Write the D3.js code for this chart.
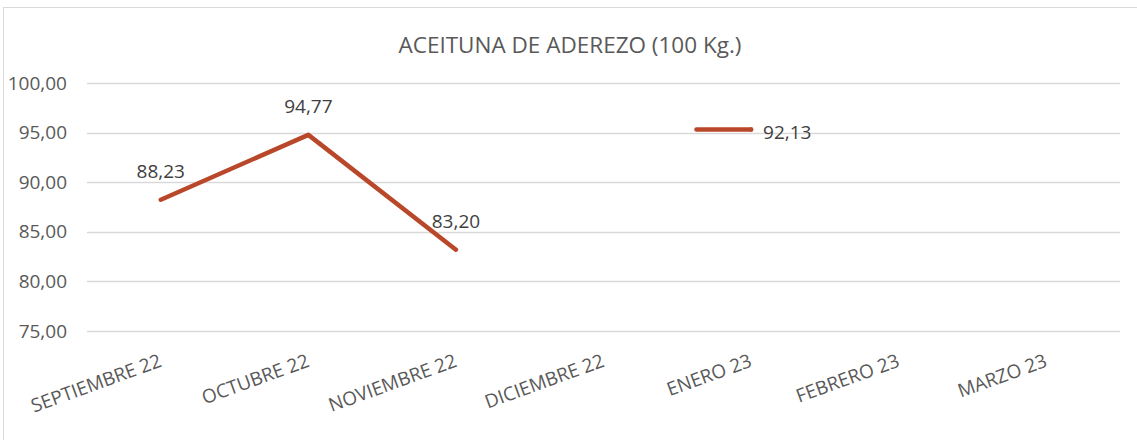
<!DOCTYPE html>
<html>
<head>
<meta charset="utf-8">
<script src="https://cdn.jsdelivr.net/npm/d3@7"></script>
<style>
  html, body { margin: 0; padding: 0; background: #fff; }
  svg { display: block; font-family: "Open Sans", sans-serif; }
</style>
</head>
<body>
<div id="chart"></div>
<script>
// datos del gráfico
const meses = ['SEPTIEMBRE 22', 'OCTUBRE 22', 'NOVIEMBRE 22', 'DICIEMBRE 22', 'ENERO 23', 'FEBRERO 23', 'MARZO 23'];
// posición dibujada de cada punto (null = sin dato)
const precios = [88.23, 94.77, 83.20, null, 95.3, null, null];
// texto de las etiquetas de datos
const etiquetas = ['88,23', '94,77', '83,20', null, '92,13', null, null];
const ticksY = [75, 80, 85, 90, 95, 100];

const W = 1137, H = 440;
const margin = { left: 87, right: 17, top: 83, bottom: 109 };

const svg = d3.select('#chart').append('svg')
  .attr('width', W)
  .attr('height', H);

// borde exterior
svg.append('rect')
  .attr('x', 3.5).attr('y', 7.5)
  .attr('width', W + 10).attr('height', H + 10)
  .attr('fill', 'none')
  .attr('stroke', '#d9d9d9')
  .attr('stroke-width', 1);

const x = d3.scaleBand()
  .domain(meses)
  .range([margin.left, W - margin.right]);

const y = d3.scaleLinear()
  .domain([75, 100])
  .range([H - margin.bottom, margin.top]);

const xc = d => x(d) + x.bandwidth() / 2;

// título (centrado en el área del gráfico completo)
svg.append('text')
  .attr('x', 570)
  .attr('y', 53)
  .attr('text-anchor', 'middle')
  .attr('font-size', '22.5px')
  .attr('fill', '#595959')
  .text('ACEITUNA DE ADEREZO (100 Kg.)');

// líneas de cuadrícula
svg.append('g')
  .selectAll('line')
  .data(ticksY)
  .enter()
  .append('line')
  .attr('x1', margin.left)
  .attr('x2', W - margin.right)
  .attr('y1', d => Math.round(y(d)) + 0.5)
  .attr('y2', d => Math.round(y(d)) + 0.5)
  .attr('stroke', '#d9d9d9')
  .attr('stroke-width', 1.5);

// eje Y
const yAxis = svg.append('g')
  .attr('transform', `translate(${margin.left - 20},0)`)
  .call(d3.axisLeft(y).tickValues(ticksY).tickSize(0).tickPadding(0)
    .tickFormat(d => d3.format('.2f')(d).replace('.', ',')));
yAxis.select('.domain').remove();
yAxis.selectAll('text')
  .attr('font-family', '"Open Sans", sans-serif')
  .attr('font-size', '19px')
  .attr('fill', '#595959');

// eje X (etiquetas inclinadas)
const xAxis = svg.append('g')
  .attr('transform', `translate(0,${y(75)})`)
  .call(d3.axisBottom(x).tickSize(0).tickPadding(0));
xAxis.select('.domain').remove();
xAxis.selectAll('text')
  .attr('font-family', '"Open Sans", sans-serif')
  .attr('font-size', '19px')
  .attr('fill', '#595959')
  .attr('text-anchor', 'end')
  .attr('dy', 0)
  .attr('transform', 'translate(2,35) rotate(-20)');

const color = '#b9482a';
const puntos = meses.map((m, i) => ({ mes: m, v: precios[i], label: etiquetas[i] }));

// serie principal
const line = d3.line()
  .defined(d => d.v != null)
  .x(d => xc(d.mes))
  .y(d => y(d.v));

svg.append('path')
  .datum(puntos)
  .attr('d', line)
  .attr('fill', 'none')
  .attr('stroke', color)
  .attr('stroke-width', 4.5)
  .attr('stroke-linecap', 'round')
  .attr('stroke-linejoin', 'round');

// puntos aislados (sin vecinos): trazo corto
const aislados = puntos.filter((d, i) => d.v != null &&
  (i === 0 || puntos[i - 1].v == null) &&
  (i === puntos.length - 1 || puntos[i + 1].v == null));

svg.selectAll('.aislado')
  .data(aislados)
  .enter()
  .append('line')
  .attr('class', 'aislado')
  .attr('x1', d => xc(d.mes) - x.bandwidth() * 0.37)
  .attr('x2', d => xc(d.mes))
  .attr('y1', d => y(d.v))
  .attr('y2', d => y(d.v))
  .attr('stroke', color)
  .attr('stroke-width', 4.5)
  .attr('stroke-linecap', 'round');

// etiquetas de datos
const conLinea = puntos.filter(d => d.v != null && !aislados.includes(d));
svg.selectAll('.lbl')
  .data(conLinea)
  .enter()
  .append('text')
  .attr('class', 'lbl')
  .attr('x', d => xc(d.mes))
  .attr('y', d => y(d.v) - 22)
  .attr('text-anchor', 'middle')
  .attr('font-size', '19px')
  .attr('fill', '#404040')
  .text(d => d.label);

svg.selectAll('.lbl-a')
  .data(aislados)
  .enter()
  .append('text')
  .attr('class', 'lbl-a')
  .attr('x', d => xc(d.mes) + 12)
  .attr('y', d => y(d.v) + 9)
  .attr('font-size', '19px')
  .attr('fill', '#404040')
  .text(d => d.label);
</script>
</body>
</html>
